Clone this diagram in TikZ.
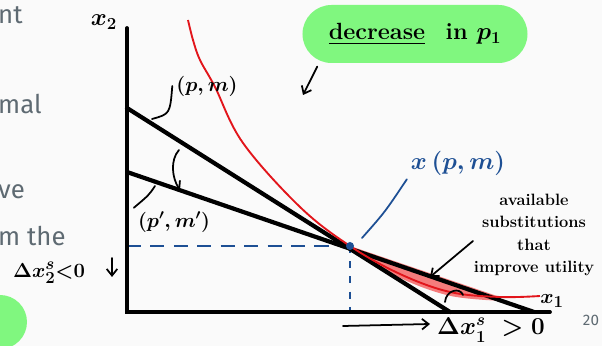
\documentclass[tikz,border=0pt]{standalone}
\usepackage{fontspec}
\usepackage{amsmath}
\usetikzlibrary{arrows.meta}
\newfontfamily\slidefont{Fira Sans}
\definecolor{paper}{HTML}{FAFAFA}
\definecolor{slidegray}{HTML}{5E6A72}
\definecolor{marker}{HTML}{80F77F}
\definecolor{inkblue}{HTML}{1D4F94}
\definecolor{inkred}{HTML}{E2151B}
\definecolor{gainred}{HTML}{F57C7C}

\begin{document}
\begin{tikzpicture}[x=0.03cm,y=-0.03cm,
  axis/.style={line width=3.2pt,line cap=round},
  budget/.style={line width=3.6pt,line cap=round},
  pen/.style={line width=1.5pt,line cap=round},
  tip/.style={-{Straight Barb[length=2mm,width=3.2mm]}},
  hand/.style={font=\boldmath\bfseries\fontsize{16}{18}\selectfont},
  slide/.style={anchor=base west,inner sep=0pt,text=slidegray,font=\slidefont\fontsize{22}{26}\selectfont}
]
\fill[paper] (0,0) rectangle (602,346);
\useasboundingbox (0,0) rectangle (602,346);
\clip (0,0) rectangle (602,346);

% left edge of the slide
\node[slide] (s1) at (-2,24) {nt};
\node[slide] (s2) at (-2,114) {mal};
\node[slide] (s3) at (-2,199) {ve};
\node[slide] (s4) at (-2,246) {m the};
\fill[marker] (0,322) circle (27);
\node[text=slidegray,font=\slidefont\fontsize{13}{15}\selectfont] (page) at (591,320) {20};

% points
\coordinate (O) at (127,312);
\coordinate (ytop) at (127,28);
\coordinate (xend) at (550,312);
\coordinate (X) at (350,246);
\coordinate (A) at (127,108);
\coordinate (B) at (450,312);
\coordinate (A2) at (127,172);
\coordinate (B2) at (534,312);

% improving bundles
\fill[gainred] plot[smooth,tension=0.6] coordinates {(350,246) (400,274) (450,292) (500,297)} -- cycle;
\draw[gainred,line width=3pt] plot[smooth,tension=0.6] coordinates {(355,250) (400,276) (450,294) (500,299)};

% guides to x(p,m)
\draw[inkblue,line width=1.3pt,dash pattern=on 12pt off 8pt] (O |- X) -- (X);
\draw[inkblue,line width=1.3pt,dash pattern=on 6pt off 7pt] (X) -- (X |- O);

% budget lines and axes
\draw[budget] (A) -- (B);
\draw[budget] (A2) -- (B2);
\draw[axis] (ytop) -- (O) -- (xend);

% indifference curve
\draw[inkred,line width=1.6pt] plot[smooth,tension=0.6] coordinates {(188,20) (193,40) (200,60) (215,87) (243,143) (300,207) (350,246) (400,274) (450,292) (500,297) (540,296)};

\fill[inkblue] (X) circle (4);

% labels
\node[hand,font=\boldmath\fontsize{20}{22}\selectfont] (x2) at (104,22) {$x_2$};
\node[hand,font=\boldmath\fontsize{19}{21}\selectfont] (x1) at (552,301) {$x_1$};
\node[hand,font=\boldmath\fontsize{17}{19}\selectfont] (lblpm) at (207,86) {$(p,m)$};
\node[hand,font=\boldmath\fontsize{17}{19}\selectfont] (lblpm2) at (174,222) {$(p',m')$};
\node[hand,text=inkblue,font=\boldmath\fontsize{21}{23}\selectfont] (xpm) at (458,163) {$x\,(p,m)$};
\node[hand,align=center,font=\bfseries\fontsize{14}{19}\selectfont] (gain) at (534,235) {available\\substitutions\\that\\improve utility};
\node[fill=marker,rounded corners=0.87cm,minimum width=6.75cm,minimum height=1.74cm,font=\boldmath\bfseries\fontsize{20}{22}\selectfont] (dec) at (415,34) {\underline{decrease} \enspace in $p_1$};
\node[hand,font=\boldmath\fontsize{19}{21}\selectfont] (dx2) at (49,273) {$\Delta x_2^s{<}0$};
\node[hand,font=\boldmath\fontsize{20}{22}\selectfont] (dx1) at (491,330) {$\Delta x_1^s \;>0$};

% connectors
\draw[pen] (152,119) .. controls (170,114) .. (lblpm.west);
\draw[pen] (155,186) .. controls (149,195) .. (lblpm2.north west);
\draw[pen,tip] (179,150) .. controls (170,160) and (172,178) .. (180,190);
\draw[inkblue,pen] ([shift={(12,-8)}]X) .. controls (385,212) .. (xpm.south west);
\draw[pen,tip] (473,241) -- (430,277);
\draw[pen] (445,302) .. controls (446,290) and (460,287) .. (463,295);
\draw[pen,tip] ([xshift=0.45cm,yshift=-0.1cm]dec.south west) -- (303,95);
\draw[pen,tip] (112,258) -- (112,277);
\draw[pen,tip] (343,326) -- (430,324);
\end{tikzpicture}
\end{document}
